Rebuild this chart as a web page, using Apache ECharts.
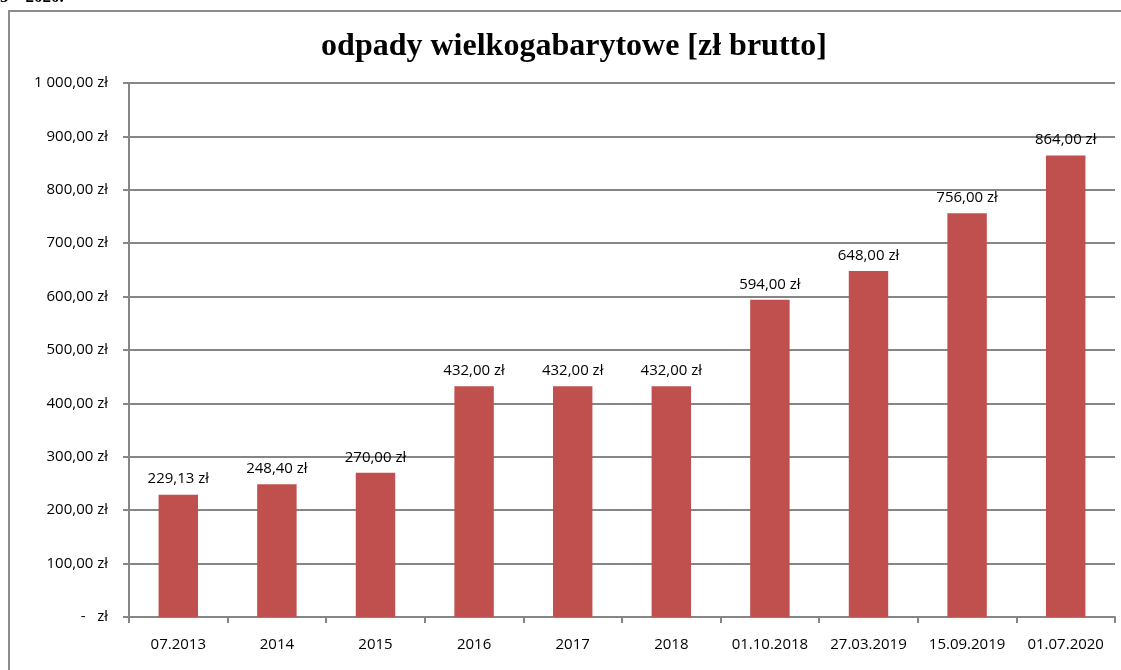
<!DOCTYPE html>
<html>
<head>
<meta charset="utf-8">
<script src="https://cdn.jsdelivr.net/npm/echarts@6/dist/echarts.min.js"></script>
<style>
html,body{margin:0;padding:0;background:#fff;}
#main{width:1121px;height:670px;}
</style>
</head>
<body>
<div id="main"></div>
<script>
// kategorie (daty)
var categories = ['07.2013', '2014', '2015', '2016', '2017', '2018', '01.10.2018', '27.03.2019', '15.09.2019', '01.07.2020'];
// kwoty brutto
var values = [229.13, 248.40, 270.00, 432.00, 432.00, 432.00, 594.00, 648.00, 756.00, 864.00];
var yTicks = [0, 100, 200, 300, 400, 500, 600, 700, 800, 900, 1000];

function plMoney(v) {
    if (v === 0) return '-   zł';
    var s = v.toFixed(2).split('.');
    var intPart = s[0].replace(/\B(?=(\d{3})+(?!\d))/g, ' ');
    return intPart + ',' + s[1] + ' zł';
}

var myChart = echarts.init(document.getElementById('main'));
var font = '"Open Sans", "Noto Sans", sans-serif';

var option = {
    animation: false,
    backgroundColor: '#fff',
    title: {
        text: 'odpady wielkogabarytowe [zł brutto]',
        left: 569,
        textAlign: 'center',
        top: 26,
        textStyle: {
            fontFamily: '"Liberation Serif", "DejaVu Serif", serif',
            fontWeight: 'bold',
            fontSize: 32,
            color: '#000'
        }
    },
    graphic: [
        {
            type: 'rect',
            shape: { x: 9, y: 11, width: 1130, height: 680 },
            style: { fill: 'none', stroke: '#8c8c8c', lineWidth: 2 },
            silent: true
        },
        {
            type: 'text',
            left: 0,
            top: -11,
            style: {
                text: '5 – 2020.',
                font: 'bold 17px "Liberation Serif", serif',
                fill: '#000'
            }
        }
    ],
    grid: {
        left: 129,
        right: 6,
        top: 83,
        bottom: 53
    },
    xAxis: {
        type: 'category',
        data: categories,
        axisLine: { lineStyle: { color: '#868686', width: 2 } },
        axisTick: { show: true, interval: 0, length: 6, alignWithLabel: false, lineStyle: { color: '#868686', width: 2 } },
        axisLabel: {
            interval: 0,
            margin: 20,
            color: '#000',
            fontSize: 15,
            fontFamily: font
        }
    },
    yAxis: {
        type: 'value',
        min: 0,
        max: 1000,
        interval: 100,
        axisLine: { show: true, lineStyle: { color: '#868686', width: 2 } },
        axisTick: { show: true, inside: false, length: 6, lineStyle: { color: '#868686', width: 2 } },
        splitLine: { show: true, lineStyle: { color: '#868686', width: 2 } },
        axisLabel: {
            margin: 21,
            color: '#000',
            fontSize: 15,
            fontFamily: font,
            formatter: function (v) { return plMoney(v); }
        }
    },
    series: [{
        type: 'bar',
        data: values,
        barWidth: '40%',
        itemStyle: { color: '#C0504D' },
        label: {
            show: true,
            position: 'top',
            distance: 8,
            color: '#000',
            fontSize: 15,
            fontFamily: font,
            formatter: function (p) { return plMoney(p.value); }
        }
    }]
};

myChart.setOption(option);
</script>
</body>
</html>
